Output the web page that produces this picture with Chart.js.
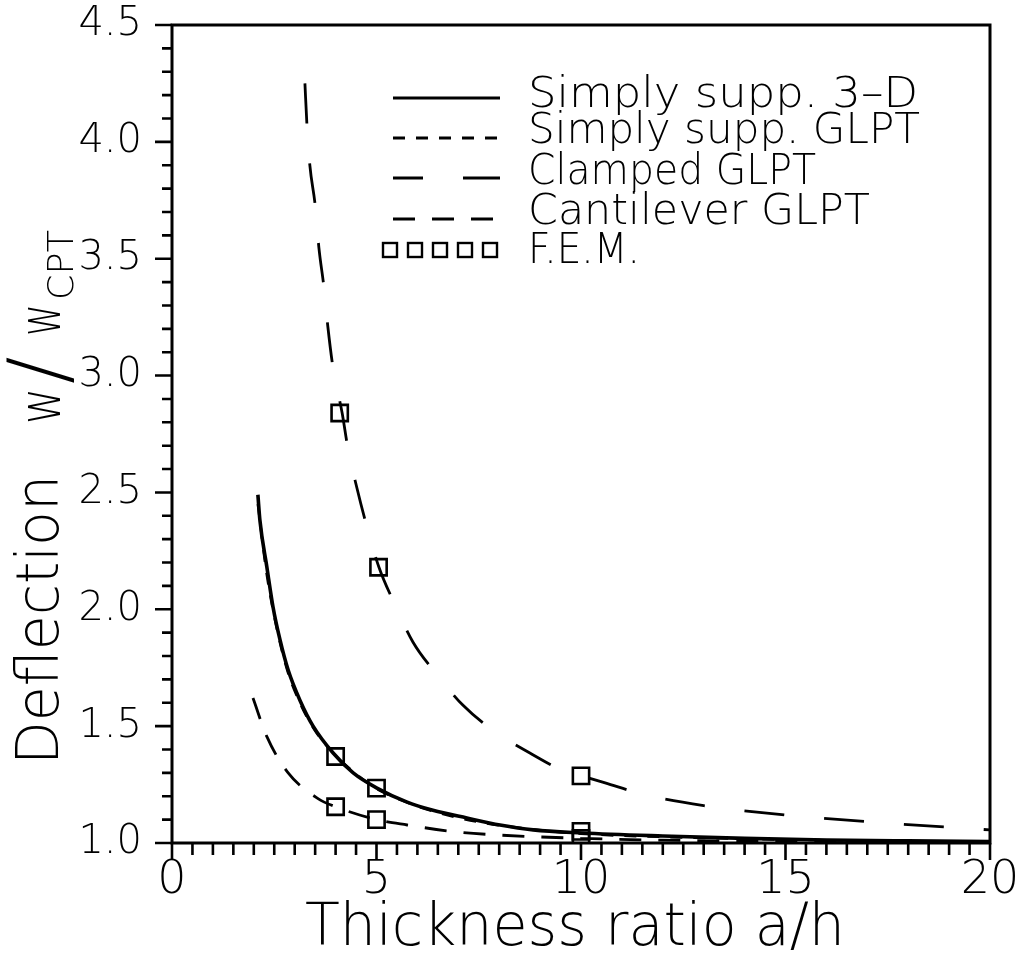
<!DOCTYPE html>
<html>
<head>
<meta charset="utf-8">
<script src="https://cdn.jsdelivr.net/npm/chart.js@4.4.1/dist/chart.umd.min.js"></script>
<style>
  html, body { margin: 0; padding: 0; background: #fff; }
  #c { display: block; }
</style>
</head>
<body>
<canvas id="c" width="1018" height="958"></canvas>
<script>
// values
const ss3dX = [2.10, 2.15, 2.32, 2.47, 2.64, 2.84, 3.13, 3.45, 3.94, 4.43, 5.01, 5.75, 6.38, 7.21, 8.02, 8.83, 10.02, 12, 14, 16, 18, 20];
const ss3dY = [2.49, 2.38, 2.18, 2.01, 1.87, 1.74, 1.61, 1.50, 1.385, 1.30, 1.235, 1.175, 1.14, 1.107, 1.077, 1.056, 1.043, 1.03, 1.02, 1.013, 1.009, 1.006];

const ssGlptX = [2.1, 2.3, 2.5, 2.8, 3.1, 3.5, 4.0, 4.5, 5.0, 5.8, 6.5, 7.5, 8.5, 10, 12, 14, 16, 18, 20];
const ssGlptY = [2.45, 2.17, 1.97, 1.75, 1.61, 1.48, 1.375, 1.295, 1.232, 1.17, 1.13, 1.09, 1.065, 1.04, 1.026, 1.018, 1.012, 1.008, 1.005];

const clampedX = [3.25, 3.30, 3.37, 3.50, 3.59, 3.72, 3.81, 3.94, 4.16, 4.30, 4.52, 4.77, 5.06, 5.45, 5.89, 6.48, 7.11, 7.9, 8.75, 9.56, 10.02, 10.59, 11.6, 13, 15, 17.5, 20];
const clampedY = [4.25, 4.07, 3.90, 3.73, 3.55, 3.37, 3.21, 3.03, 2.84, 2.69, 2.52, 2.35, 2.18, 2.02, 1.86, 1.72, 1.59, 1.475, 1.385, 1.31, 1.287, 1.257, 1.205, 1.16, 1.12, 1.085, 1.056];

const cantX = [1.98, 2.32, 2.84, 3.57, 4.0, 5.0, 5.75, 6.97, 8.0, 10, 12, 14, 16, 18, 20];
const cantY = [1.62, 1.455, 1.30, 1.19, 1.155, 1.10, 1.077, 1.047, 1.034, 1.02, 1.012, 1.008, 1.005, 1.003, 1.002];

const femX = [4, 5, 10, 4.1, 5.05, 10, 4, 5, 10];
const femY = [1.37, 1.235, 1.05, 2.84, 2.18, 1.287, 1.155, 1.10, 1.02];

const legendLabels = ['Simply supp. 3\u2013D', 'Simply supp. GLPT', 'Clamped GLPT', 'Cantilever GLPT', 'F.E.M.'];
const xTitle = 'Thickness ratio a/h';

const FAMILY = '"DejaVu Sans", "Liberation Sans", sans-serif';
const pts = (xs, ys) => xs.map((x, i) => ({ x: x, y: ys[i] }));

// draw text stretched/squeezed to a given width
function fitText(ctx, text, x, y, size, width, center) {
  ctx.save();
  ctx.font = '200 ' + size + 'px ' + FAMILY;
  ctx.textAlign = 'left';
  ctx.textBaseline = 'alphabetic';
  const w = ctx.measureText(text).width;
  const k = width ? width / w : 1;
  ctx.translate(x, y);
  ctx.scale(k, 1);
  ctx.fillText(text, center ? -w / 2 : 0, 0);
  ctx.restore();
}

function upText(ctx, text, x, y, size, width) {
  ctx.save();
  ctx.translate(x, y);
  ctx.rotate(-Math.PI / 2);
  fitText(ctx, text, 0, 0, size, width);
  ctx.restore();
}

const paperPlugin = {
  id: 'paper',
  beforeDraw(chart) {
    const ctx = chart.ctx;
    ctx.save();
    ctx.fillStyle = '#fff';
    ctx.fillRect(0, 0, chart.width, chart.height);
    ctx.restore();
  },
  afterDraw(chart) {
    const ctx = chart.ctx;
    const a = chart.chartArea;
    const xs = chart.scales.x, ys = chart.scales.y;
    ctx.save();
    ctx.strokeStyle = '#000';
    ctx.fillStyle = '#000';
    ctx.lineWidth = 2.6;
    ctx.lineCap = 'butt';

    // tick marks
    ctx.beginPath();
    xs.ticks.forEach(t => {
      const px = xs.getPixelForValue(t.value);
      const major = Math.round(t.value * 2) % 10 === 0;
      ctx.moveTo(px, a.bottom);
      ctx.lineTo(px, a.bottom + (major ? 17 : 12));
    });
    ys.ticks.forEach(t => {
      const py = ys.getPixelForValue(t.value);
      const major = Math.round(t.value * 10) % 5 === 0;
      ctx.moveTo(a.left, py);
      ctx.lineTo(a.left - (major ? 17 : 10), py);
    });
    ctx.stroke();

    // frame
    ctx.lineWidth = 3;
    ctx.strokeRect(a.left, a.top, a.right - a.left, a.bottom - a.top);

    // legend
    const ds = chart.data.datasets;
    const rows = [
      { line: 98, base: 107 },
      { line: 138, base: 143 },
      { line: 178, base: 184 },
      { line: 219, base: 224 },
      { line: 250, base: 263 }
    ];
    const textW = [390, 392, 288, 342, 112];
    for (let i = 0; i < 4; i++) {
      ctx.save();
      ctx.beginPath();
      ctx.lineWidth = 2.8;
      ctx.setLineDash(ds[i].borderDash || []);
      ctx.lineDashOffset = i === 2 ? 10 : 0;
      ctx.moveTo(393, rows[i].line);
      ctx.lineTo(500, rows[i].line);
      ctx.stroke();
      ctx.restore();
    }
    ctx.lineWidth = 2.4;
    for (let k = 0; k < 5; k++) {
      ctx.strokeRect(383 + k * 25, rows[4].line - 7, 14, 14);
    }
    legendLabels.forEach((txt, i) => {
      fitText(ctx, txt, 528, rows[i].base, 42, textW[i]);
    });

    // axis titles
    fitText(ctx, xTitle, 575, 945, 58, 540, true);
    upText(ctx, 'Deflection', 58, 765, 58, 290);
    upText(ctx, 'w', 60, 424, 58, 36);
    upText(ctx, '/', 66, 384, 82, null);
    upText(ctx, 'w', 60, 336, 58, 32);
    upText(ctx, 'CPT', 73, 300, 35, 70);
    ctx.restore();
  }
};

const ctx = document.getElementById('c').getContext('2d');
new Chart(ctx, {
  type: 'line',
  data: {
    datasets: [
      { label: legendLabels[0], data: pts(ss3dX, ss3dY), borderColor: '#000', borderWidth: 3.6, borderDash: [], pointRadius: 0, cubicInterpolationMode: 'monotone' },
      { label: legendLabels[1], data: pts(ssGlptX, ssGlptY), borderColor: '#000', borderWidth: 2.6, borderDash: [12, 11], pointRadius: 0, cubicInterpolationMode: 'monotone' },
      { label: legendLabels[2], data: pts(clampedX, clampedY), borderColor: '#000', borderWidth: 2.8, borderDash: [40, 40], pointRadius: 0, cubicInterpolationMode: 'monotone' },
      { label: legendLabels[3], data: pts(cantX, cantY), borderColor: '#000', borderWidth: 2.8, borderDash: [22, 17], pointRadius: 0, cubicInterpolationMode: 'monotone' },
      { label: legendLabels[4], data: pts(femX, femY), showLine: false, borderColor: '#000', pointStyle: 'rect', pointRadius: 11.5, pointBorderWidth: 2.6, pointBorderColor: '#000', pointBackgroundColor: 'rgba(0,0,0,0)' }
    ]
  },
  options: {
    responsive: false,
    devicePixelRatio: 1,
    animation: false,
    layout: { padding: { top: 25, right: 28, left: 0, bottom: 0 } },
    plugins: { legend: { display: false }, tooltip: { enabled: false } },
    scales: {
      x: {
        type: 'linear',
        min: 0, max: 20,
        grid: { display: false },
        border: { display: false },
        afterFit: s => { s.height = 115; s.paddingLeft = 0; s.paddingRight = 0; },
        ticks: {
          stepSize: 0.5,
          autoSkip: false,
          maxRotation: 0,
          padding: 2,
          color: '#000',
          font: { family: FAMILY, size: 46, weight: 200 },
          callback: v => (Math.round(v * 2) % 10 === 0 ? String(Math.round(v)) : '')
        }
      },
      y: {
        type: 'linear',
        min: 1, max: 4.5,
        grid: { display: false },
        border: { display: false },
        afterFit: s => { s.width = 172; s.paddingTop = 0; s.paddingBottom = 0; },
        ticks: {
          stepSize: 0.1,
          autoSkip: false,
          padding: 22,
          color: '#000',
          font: { family: FAMILY, size: 40, weight: 200 },
          callback: v => (Math.round(v * 10) % 5 === 0 ? v.toFixed(1) : '')
        }
      }
    }
  },
  plugins: [paperPlugin]
});
</script>
</body>
</html>
